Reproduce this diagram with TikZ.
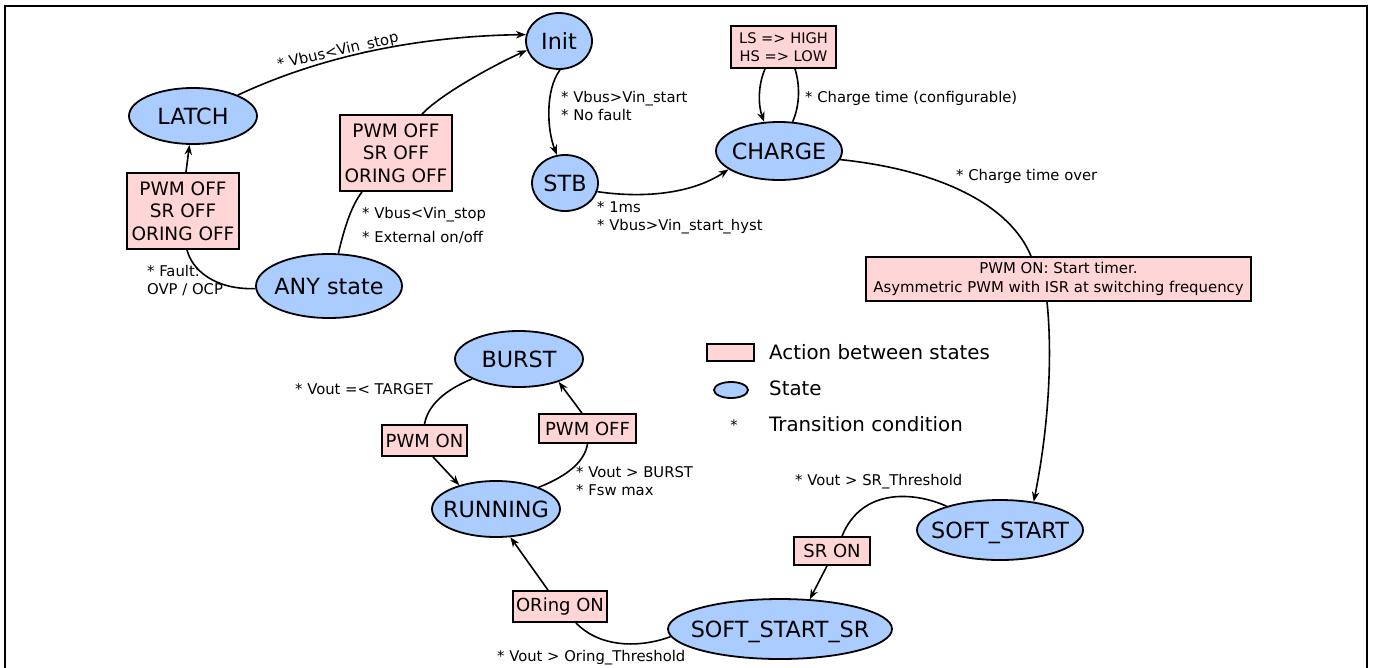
\documentclass[tikz,border=0pt]{standalone}
\usepackage{fontspec}
\setmainfont{DejaVu Sans}
\usetikzlibrary{shapes.geometric,arrows.meta}
\definecolor{stblue}{HTML}{AACCFF}
\definecolor{actpink}{HTML}{FFD5D5}
\newcommand\fsz[2]{\fontsize{#1}{#2}\selectfont}
\newcommand\zw[1]{\makebox[0pt]{#1}}
\begin{document}
\begin{tikzpicture}[x=1pt,y=-1pt,
  state/.style={ellipse,draw,fill=stblue,line width=1.8pt,inner sep=0pt,text height=16pt,text depth=0pt,font=\fsz{22.3}{26}},
  legstate/.style={ellipse,draw,fill=stblue,line width=1.8pt,inner sep=0pt},
  act/.style={rectangle,draw,fill=actpink,line width=1.8pt,inner sep=0pt,align=center},
  cond/.style={inner sep=0pt,anchor=west,align=left,font=\fsz{14.8}{18.5}},
  conn/.style={line width=1.6pt},
  arr/.style={conn,-{Stealth[length=10pt,width=7.5pt]}}]
\useasboundingbox (0,0) rectangle (1375,667);
\draw[line width=2.2pt] (5,6) rectangle (1367,720);

% states
\node[state,minimum width=66pt,minimum height=56pt] (init) at (559,41) {\zw{Init}};
\node[state,minimum width=66pt,minimum height=56pt] (stb) at (565,183) {\zw{STB}};
\node[state,minimum width=126pt,minimum height=58pt] (charge) at (779,151) {\zw{CHARGE}};
\node[state,minimum width=128pt,minimum height=56pt] (latch) at (193,116) {\zw{LATCH}};
\node[state,minimum width=146pt,minimum height=64pt] (any) at (329,286) {\zw{ANY state}};
\node[state,minimum width=128pt,minimum height=56pt] (burst) at (519,359) {\zw{BURST}};
\node[state,minimum width=128pt,minimum height=56pt] (running) at (496,509) {\zw{RUNNING}};
\node[state,minimum width=166pt,minimum height=60pt] (ss) at (1000,530) {\zw{SOFT\_START}};
\node[state,minimum width=224pt,minimum height=60pt] (ssr) at (780,629) {\zw{SOFT\_START\_SR}};

% actions
\node[act,minimum width=112pt,minimum height=76pt,font=\fsz{18.5}{22.5}] (box1) at (183,211) {PWM OFF\\SR OFF\\ORING OFF};
\node[act,minimum width=112pt,minimum height=76pt,font=\fsz{18.5}{22.5}] (box2) at (396,153) {PWM OFF\\SR OFF\\ORING OFF};
\node[act,minimum width=105pt,minimum height=42pt,font=\fsz{14.6}{18.5}] (lsbox) at (783.5,47) {LS => HIGH\\HS => LOW};
\node[act,minimum width=385pt,minimum height=44pt,font=\fsz{14.9}{19}] (big) at (1058.5,279) {PWM ON: Start timer.\\Asymmetric PWM with ISR at switching frequency};
\node[act,minimum width=85pt,minimum height=31pt,font=\fsz{18}{22}] (pwmon) at (424.5,440.5) {PWM ON};
\node[act,minimum width=97pt,minimum height=29pt,font=\fsz{18}{22}] (pwmoff) at (587.5,428.5) {PWM OFF};
\node[act,minimum width=94pt,minimum height=31pt,font=\fsz{18}{22}] (oring) at (560,606.5) {ORing ON};
\node[act,minimum width=76pt,minimum height=28pt,font=\fsz{18}{22}] (sron) at (832,551) {SR ON};

% legend
\node[act,minimum width=47pt,minimum height=17pt] (legbox) at (730.5,352.5) {};
\node[legstate,minimum width=34pt,minimum height=16pt] (legell) at (731,390) {};
\node[inner sep=0pt,font=\fsz{14.5}{16}] (legstar) at (734,425) {*};
\node[inner sep=0pt,anchor=west,font=\fsz{19.8}{22}] (legt1) at (769,352) {Action between states};
\node[inner sep=0pt,anchor=west,font=\fsz{19.8}{22}] (legt2) at (769,388) {State};
\node[inner sep=0pt,anchor=west,font=\fsz{19.8}{22}] (legt3) at (769,424) {Transition condition};

% connectors
\draw[arr] (latch.25) .. controls (330,52) and (430,36) .. (init.169);
\draw[arr] ([xshift=26pt]box2.north) .. controls (440,95) and (490,67) .. (init.196);
\draw[conn] (any.74) .. controls (345,225) and (352,205) .. ([xshift=-34pt]box2.south);
\draw[conn] (any.182) .. controls (215,290) and (192,270) .. ([xshift=4pt]box1.south);
\draw[arr] ([xshift=3pt]box1.north) -- (latch.263);
\draw[arr] (init.-88) .. controls (545,90) and (547,130) .. (stb.106);
\draw[arr] (stb.-15) .. controls (640,198) and (690,195) .. (charge.200);
\draw[arr] ([xshift=-18.5pt]lsbox.south) .. controls (758,85) and (758,105) .. (charge.117);
\draw[conn] (charge.65) .. controls (800,105) and (800,85) .. ([xshift=11.5pt]lsbox.south);
\draw[conn] (charge.-8) .. controls (940,170) and (1010,205) .. ([xshift=-27.5pt]big.north);
\draw[arr] ([xshift=-11.5pt]big.south) .. controls (1052,350) and (1050,420) .. (ss.40);
\draw[conn] (ss.156) .. controls (915,492) and (862,487) .. ([xshift=10pt]sron.north);
\draw[arr] ([xshift=-5pt]sron.south) -- (ssr.45);
\draw[conn] (ssr.184) .. controls (640,648) and (600,648) .. ([xshift=16pt]oring.south);
\draw[arr] ([xshift=-12pt]oring.north) -- (running.-63);
\draw[conn] (burst.203) .. controls (445,390) and (428,405) .. (pwmon.north);
\draw[arr] ([xshift=8.5pt]pwmon.south) -- (running.147);
\draw[conn] (running.27) .. controls (570,475) and (585,460) .. (pwmoff.south);
\draw[arr] ([xshift=-5.5pt]pwmoff.north) -- (burst.-30);

% conditions
\node[inner sep=0pt,rotate=13,font=\fsz{14.8}{18.5}] (c1) at (338,52) {* Vbus<Vin\_stop};
\node[cond] (c2) at (561,106) {* Vbus>Vin\_start\\* No fault};
\node[cond] (c3) at (597,217.5) {* 1ms\\* Vbus>Vin\_start\_hyst};
\node[cond] (c4) at (805,98) {* Charge time (configurable)};
\node[cond] (c5) at (956,176) {* Charge time over};
\node[cond,font=\fsz{14.8}{24}] (c6) at (362,226) {* Vbus<Vin\_stop\\* External on/off};
\node[cond] (c7) at (147,280.5) {* Fault:\\OVP / OCP};
\node[cond] (c8) at (295,389) {* Vout =< TARGET};
\node[cond] (c9) at (576,481) {* Vout > BURST\\* Fsw max};
\node[cond] (c10) at (795,482) {* Vout > SR\_Threshold};
\node[cond] (c11) at (497,658) {* Vout > Oring\_Threshold};
\end{tikzpicture}
\end{document}
